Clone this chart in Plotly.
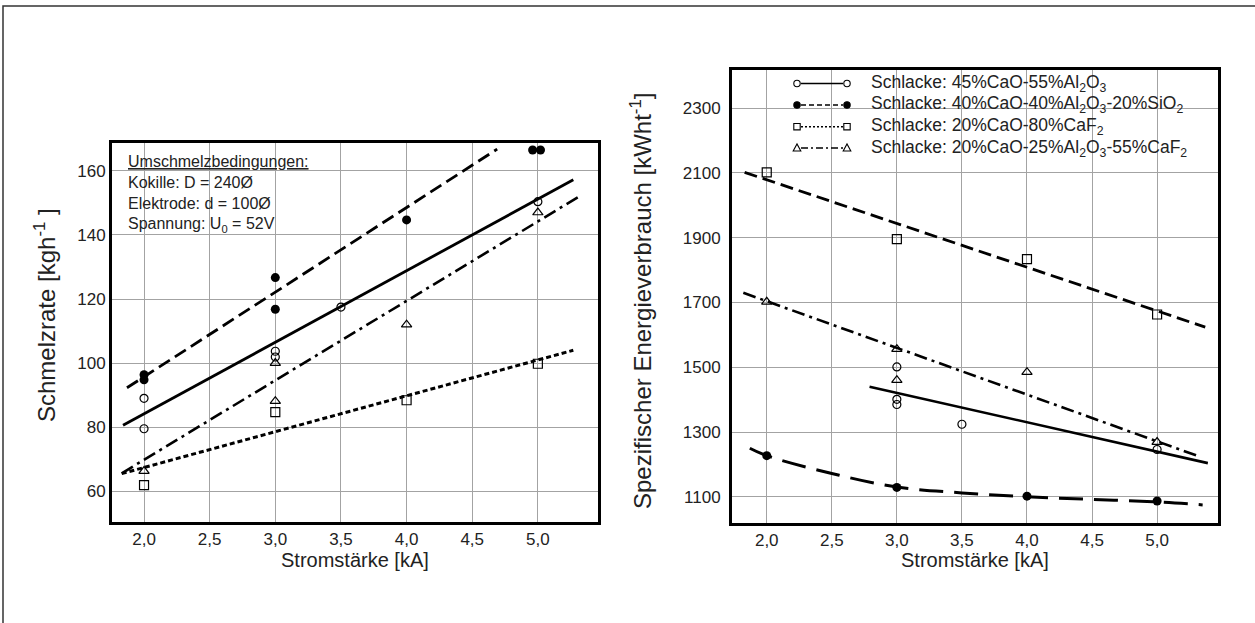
import plotly.graph_objects as go

W, H = 1255, 623
FONT = "Liberation Sans, Arial, sans-serif"
TXT = "#222222"
GRID = "#a3a3a3"

# ---------------- data: left panel (Schmelzrate) ----------------
L_open_x = [2.0, 2.0, 3.0, 3.0, 3.5, 5.0]
L_open_y = [89.0, 79.5, 103.7, 101.9, 117.5, 150.4]
L_fill_x = [2.0, 2.0, 3.0, 3.0, 4.0, 4.96, 5.02]
L_fill_y = [96.4, 94.8, 126.7, 116.8, 144.7, 166.5, 166.5]
L_sq_x = [2.0, 3.0, 4.0, 5.0]
L_sq_y = [61.9, 84.7, 88.4, 99.8]
L_tri_x = [2.0, 3.0, 3.0, 4.0, 5.0]
L_tri_y = [66.3, 100.0, 88.1, 112.0, 147.0]

L_solid_x = [1.84, 5.27]
L_solid_y = [80.6, 157.2]
L_dash_x = [1.87, 4.69]
L_dash_y = [92.3, 166.8]
L_dot_x = [1.83, 5.27]
L_dot_y = [65.5, 104.0]
L_dd_x = [1.83, 5.33]
L_dd_y = [65.6, 152.4]

# ---------------- data: right panel (Energieverbrauch) ----------------
R_open_x = [3.0, 3.0, 3.0, 3.5, 5.0]
R_open_y = [1501, 1401, 1385, 1324, 1246]
R_fill_x = [2.0, 3.0, 4.0, 5.0]
R_fill_y = [1227, 1129, 1102, 1087]
R_sq_x = [2.0, 3.0, 4.0, 5.0]
R_sq_y = [2102, 1896, 1834, 1663]
R_tri_x = [2.0, 3.0, 3.0, 4.0, 5.0]
R_tri_y = [1702, 1556, 1460, 1485, 1269]

R_solid_x = [2.79, 5.39]
R_solid_y = [1440, 1204]
R_top_x = [1.83, 5.37]
R_top_y = [2102, 1624]
R_dd_x = [1.82, 5.30]
R_dd_y = [1730, 1228]
R_curve_x = [1.87, 2.0, 2.5, 3.0, 3.5, 4.0, 4.5, 5.0, 5.35]
R_curve_y = [1250, 1227, 1172, 1130, 1112, 1100, 1092, 1084, 1075]

x_ticks = [2.0, 2.5, 3.0, 3.5, 4.0, 4.5, 5.0]
L_y_ticks = [60, 80, 100, 120, 140, 160]
R_y_ticks = [1100, 1300, 1500, 1700, 1900, 2100, 2300]

legend_labels = [
    "Schlacke: 45%CaO-55%Al<sub>2</sub>O<sub>3</sub>",
    "Schlacke: 40%CaO-40%Al<sub>2</sub>O<sub>3</sub>-20%SiO<sub>2</sub>",
    "Schlacke: 20%CaO-80%CaF<sub>2</sub>",
    "Schlacke: 20%CaO-25%Al<sub>2</sub>O<sub>3</sub>-55%CaF<sub>2</sub>",
]

def px(x):
    return x / W

def py(y):
    return 1 - y / H

fig = go.Figure()

mk_open = dict(symbol="circle-open", size=8, color="black", line=dict(width=1.2))
mk_fill = dict(symbol="circle", size=9, color="black")
mk_sq = dict(symbol="square-open", size=9, color="black", line=dict(width=1.2))
mk_tri = dict(symbol="triangle-up-open", size=9, color="black", line=dict(width=1.2))

def line(x, y, dash, width, xa, ya, shape="linear"):
    fig.add_trace(go.Scatter(x=x, y=y, mode="lines", xaxis=xa, yaxis=ya,
                             line=dict(color="black", width=width, dash=dash, shape=shape),
                             showlegend=False, hoverinfo="skip"))

def pts(x, y, mk, xa, ya):
    fig.add_trace(go.Scatter(x=x, y=y, mode="markers", xaxis=xa, yaxis=ya,
                             marker=mk, showlegend=False))

# left lines
line(L_solid_x, L_solid_y, "solid", 2.8, "x", "y")
line(L_dash_x, L_dash_y, "13px,6px", 2.8, "x", "y")
line(L_dot_x, L_dot_y, "5px,3px", 3, "x", "y")
line(L_dd_x, L_dd_y, "13px,5px,3px,5px", 2.6, "x", "y")
pts(L_open_x, L_open_y, mk_open, "x", "y")
pts(L_fill_x, L_fill_y, mk_fill, "x", "y")
pts(L_sq_x, L_sq_y, mk_sq, "x", "y")
pts(L_tri_x, L_tri_y, mk_tri, "x", "y")

# right lines
line(R_solid_x, R_solid_y, "solid", 2.6, "x2", "y2")
line(R_top_x, R_top_y, "13px,6px", 2.8, "x2", "y2")
line(R_dd_x, R_dd_y, "13px,5px,3px,5px", 2.6, "x2", "y2")
line(R_curve_x, R_curve_y, "24px,11px", 3, "x2", "y2", shape="spline")
pts(R_open_x, R_open_y, mk_open, "x2", "y2")
pts(R_fill_x, R_fill_y, mk_fill, "x2", "y2")
pts(R_sq_x, R_sq_y, mk_sq, "x2", "y2")
pts(R_tri_x, R_tri_y, mk_tri, "x2", "y2")

ax_common = dict(showgrid=True, gridcolor=GRID, gridwidth=1.4, zeroline=False,
                 showline=True, linecolor="black", linewidth=3, mirror=True,
                 ticks="", ticklen=0, tickfont=dict(family=FONT, size=17, color=TXT))

fig.update_layout(
    xaxis=dict(domain=[px(112), px(598)], range=[1.756, 5.458], anchor="y",
               tickvals=x_ticks, tickformat=".1f", ticklabelstandoff=0, **ax_common),
    yaxis=dict(domain=[py(522), py(143)], range=[50.4, 168.7], anchor="x",
               tickvals=L_y_ticks, ticklabelstandoff=0, **ax_common),
    xaxis2=dict(domain=[px(732), px(1218)], range=[1.733, 5.468], anchor="y2",
                tickvals=x_ticks, tickformat=".1f", ticklabelstandoff=0, **ax_common),
    yaxis2=dict(domain=[py(522.7), py(70)], range=[1020, 2418], anchor="x2",
                tickvals=R_y_ticks, ticklabelstandoff=5, **ax_common),
    width=W, height=H, margin=dict(l=0, r=0, t=0, b=0),
    paper_bgcolor="white", plot_bgcolor="white",
    separators=",.", showlegend=False,
    font=dict(family=FONT, color=TXT),
)

ann = []
# axis titles
for xc in (355, 975):
    ann.append(dict(text="Stromstärke [kA]", x=px(xc), y=py(560), xref="paper", yref="paper",
                    xanchor="center", yanchor="middle", showarrow=False,
                    font=dict(size=20, family=FONT, color=TXT)))
ann.append(dict(text="Schmelzrate [kgh<sup>-1</sup> ]", x=px(45), y=py(315), xref="paper",
                yref="paper", xanchor="center", yanchor="middle", showarrow=False, textangle=-90,
                font=dict(size=24, family=FONT, color=TXT)))
ann.append(dict(text="Spezifischer Energieverbrauch [kWht<sup>-1</sup>]", x=px(641), y=py(301),
                xref="paper", yref="paper", xanchor="center", yanchor="middle",
                showarrow=False, textangle=-90,
                font=dict(size=24, family=FONT, color=TXT)))
# conditions box
ann.append(dict(text="<u>Umschmelzbedingungen:</u><br>Kokille: D = 240Ø<br>Elektrode: d = 100Ø"
                     "<br>Spannung: U<sub>0</sub> = 52V",
                x=px(126), y=py(151), xref="paper", yref="paper", xanchor="left",
                yanchor="top", align="left", showarrow=False,
                font=dict(size=16, family=FONT, color=TXT)))

# custom legend (right panel)
shapes = []
leg_rows = [83.5, 105, 126.7, 148]
leg_dash = ["solid", "5px,3px", "2px,2px", "7px,3px,2px,3px"]
leg_sym = ["open", "fill", "sq", "tri"]
x0l, x1l = 797, 847
for i, yy in enumerate(leg_rows):
    shapes.append(dict(type="line", xref="paper", yref="paper", x0=px(x0l + 4), x1=px(x1l - 4),
                       y0=py(yy), y1=py(yy), line=dict(color="black", width=1.4, dash=leg_dash[i])))
    for xc in (x0l, x1l):
        r = 3.2
        if leg_sym[i] in ("open", "fill"):
            shapes.append(dict(type="circle", xref="paper", yref="paper",
                               x0=px(xc - r), x1=px(xc + r), y0=py(yy - r), y1=py(yy + r),
                               line=dict(color="black", width=1.1),
                               fillcolor="black" if leg_sym[i] == "fill" else "white"))
        elif leg_sym[i] == "sq":
            shapes.append(dict(type="rect", xref="paper", yref="paper",
                               x0=px(xc - r), x1=px(xc + r), y0=py(yy - r), y1=py(yy + r),
                               line=dict(color="black", width=1.1), fillcolor="white"))
        else:
            path = "M {} {} L {} {} L {} {} Z".format(px(xc - 3.8), py(yy + 3), px(xc + 3.8),
                                                      py(yy + 3), px(xc), py(yy - 4))
            shapes.append(dict(type="path", xref="paper", yref="paper", path=path,
                               line=dict(color="black", width=1.1), fillcolor="white"))
    ann.append(dict(text=legend_labels[i], x=px(869), y=py(yy), xref="paper", yref="paper",
                    xanchor="left", yanchor="middle", showarrow=False,
                    font=dict(size=17.5, family=FONT, color=TXT)))

# outer frame
shapes.append(dict(type="rect", xref="paper", yref="paper", x0=px(3), x1=px(1262),
                   y0=py(640), y1=py(6), line=dict(color="#333333", width=1.5), layer="below"))

fig.update_layout(annotations=ann, shapes=shapes)
fig.write_html("out.html")
